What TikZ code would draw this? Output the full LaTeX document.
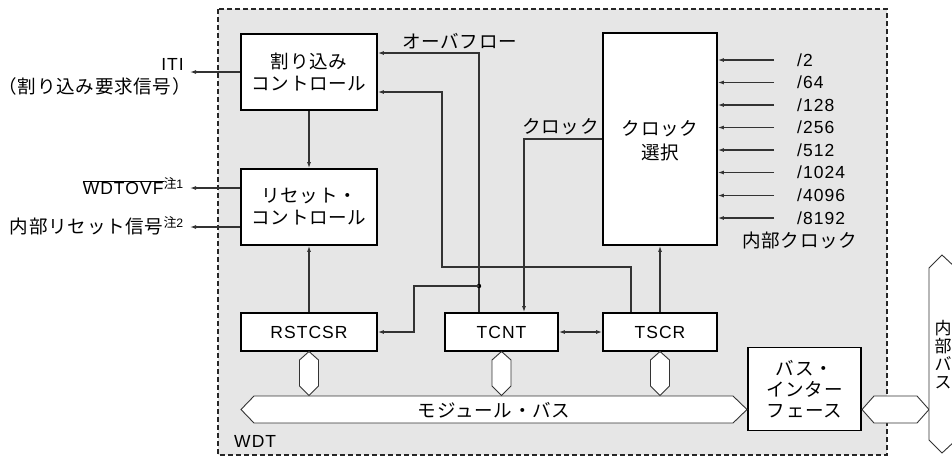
\documentclass[tikz,border=0pt]{standalone}
\usepackage{fontspec}
\setmainfont{Liberation Sans}[LetterSpace=6]
\newfontfamily\jp{Noto Sans CJK JP}[Scale=1.06,LetterSpace=4]
\usetikzlibrary{arrows.meta}
\definecolor{bgray}{HTML}{E6E6E6}
\definecolor{lcol}{HTML}{333333}
\tikzset{
  blk/.style={draw=black,line width=1.8pt,fill=white,inner sep=0pt,align=center,
    font=\fontsize{17.5}{22}\selectfont},
  conn/.style={draw=lcol,line width=1.1pt,-{Latex[length=6pt,width=4pt]}},
  conn2/.style={draw=lcol,line width=1.1pt,{Latex[length=6pt,width=4pt]}-{Latex[length=6pt,width=4pt]}},
  lbl/.style={inner sep=0pt,font=\fontsize{17.5}{22}\selectfont},
  hexs/.style={draw=black!80,line width=0.9pt,fill=white},
}
\newcommand{\vhex}[1]{\path[hexs] (#1,351.5) -- (#1+9.5,360) -- (#1+9.5,386) -- (#1,395.5) -- (#1-9.5,386) -- (#1-9.5,360) -- cycle;}
\begin{document}
\begin{tikzpicture}[x=1pt,y=-1pt]
\useasboundingbox (0,0) rectangle (952,456);
% WDT area
\fill[bgray] (218,9) rectangle (887,455);
% blocks
\node[blk,minimum width=136pt,minimum height=76pt] (intc) at (309,72) {\jp 割り込み\\\jp コントロール};
\node[blk,minimum width=136pt,minimum height=76pt] (rstc) at (309,207) {\jp リセット・\\\jp コントロール};
\node[blk,minimum width=136pt,minimum height=38pt] (rstcsr) at (309,332) {RSTCSR};
\node[blk,minimum width=113pt,minimum height=38pt] (tcnt) at (501.5,332) {TCNT};
\node[blk,minimum width=114pt,minimum height=38pt] (tscr) at (660,332) {TSCR};
\node[blk,minimum width=114pt,minimum height=212pt,text depth=0pt] (clk) at (660,139) {};
\node[lbl,align=center,font=\fontsize{17.5}{24}\selectfont] (clkt) at (660,141) {\jp クロック\\\jp 選択};
\node[blk,minimum width=113pt,minimum height=83pt,font=\fontsize{17.5}{21}\selectfont] (bif) at (804.5,389) {\jp バス・\\\jp インター\\\jp フェース};
% module bus
\path[hexs] (241,409.5) -- (254,396) -- (733,396) -- (747,409.5) -- (733,423) -- (254,423) -- cycle;
\node[lbl] (mbus) at (494,410) {\jp モジュール・バス};
\vhex{309}
\vhex{501.5}
\vhex{660}
% dashed border
\draw[black!85,line width=1.4pt,dash pattern=on 5pt off 3pt] (218,9) rectangle (887,455);
% external bus
\path[hexs] (862,409.5) -- (874,396) -- (917,396) -- (929,409.5) -- (917,423) -- (874,423) -- cycle;
\path[hexs] (942,255) -- (956,268) -- (956,440) -- (942,453) -- (929,440) -- (929,268) -- cycle;
\node[lbl,align=center,font=\fontsize{16}{18}\selectfont] (ibus) at (943,355) {\jp 内\\\jp 部\\\jp バ\\\jp ス};
\node[lbl,anchor=west] (wdt) at (234,441) {WDT};
% left outputs
\coordinate (iti) at (190,72);
\coordinate (ovf) at (190,188);
\coordinate (irs) at (190,227);
\draw[conn] (intc.west) -- (iti);
\draw[conn] (rstc.west |- ovf) -- (ovf);
\draw[conn] (rstc.west |- irs) -- (irs);
\node[lbl,anchor=east] (itil) at (184,64) {ITI};
\node[lbl,anchor=east] (itil2) at (191,86) {\jp （割り込み要求信号）};
\node[lbl,anchor=east] (ovfl) at (184,186) {$\overline{\mbox{WDTOVF}}$\textsuperscript{\jp 注\rmfamily 1}};
\node[lbl,anchor=east] (irsl) at (184,226) {\jp 内部リセット信号\textsuperscript{\jp 注\rmfamily 2}};
% internal connections
\draw[conn] (intc.south) -- (rstc.north);
\draw[conn] (rstcsr.north) -- (rstc.south);
\coordinate (ofx) at (479,53);
\coordinate (jn) at (479,286);
\draw[conn] (tcnt.north -| ofx) -- (ofx) -- (intc.east |- ofx);
\node[lbl,anchor=west] (ofl) at (402,41) {\jp オーバフロー};
\fill[black] (jn) circle (2.2pt);
\draw[conn] (jn) -- (414,286) |- (rstcsr.east);
\draw[conn] ([xshift=-29pt]tscr.north) |- (442,267) |- ([yshift=-20pt]intc.east);
\draw[conn] (clk.west) -| ([xshift=22.5pt]tcnt.north);
\node[lbl,anchor=west] (clkl) at (522,127) {\jp クロック};
\draw[conn] (tscr.north) -- (clk.south);
\draw[conn2] (tcnt.east) -- (tscr.west);
% clock inputs
\foreach \y/\t [count=\i] in {60/2,82.5/64,105/128,127.5/256,150/512,172.5/1024,195.5/4096,218/8192}{
  \coordinate (ci\i) at (774,\y);
  \draw[conn] (ci\i) -- (clk.east |- ci\i);
  \node[lbl,anchor=west] (cl\i) at (797,\y) {/\t};
}
\node[lbl,anchor=west] (ick) at (742,240) {\jp 内部クロック};
\end{tikzpicture}
\end{document}
